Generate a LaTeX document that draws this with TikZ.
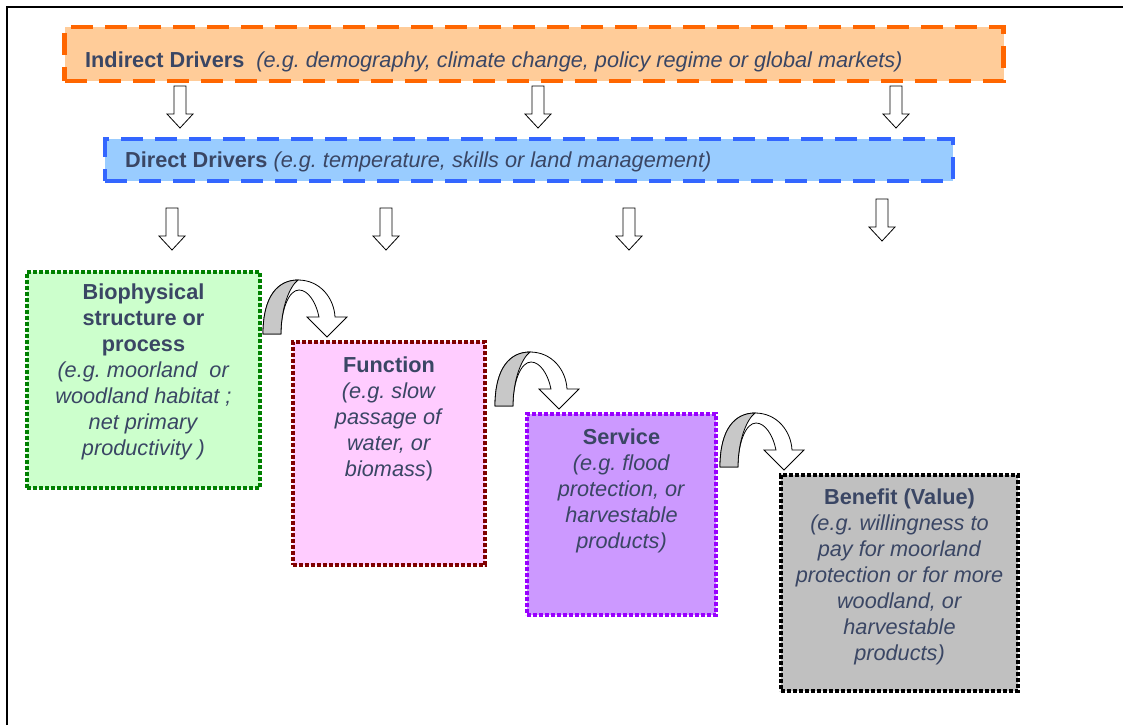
\documentclass[tikz,border=0pt]{standalone}
\usepackage{fontspec}
\setmainfont{Liberation Sans}
\frenchspacing
\definecolor{txt}{RGB}{58,70,100}
\definecolor{orgE}{HTML}{FF6600}
\definecolor{orgF}{HTML}{FFCC99}
\definecolor{bluE}{HTML}{3366FF}
\definecolor{bluF}{HTML}{99CCFF}
\definecolor{grnE}{HTML}{008000}
\definecolor{grnF}{HTML}{CCFFCC}
\definecolor{redE}{HTML}{800000}
\definecolor{redF}{HTML}{FFCCFF}
\definecolor{purE}{HTML}{9900FF}
\definecolor{purF}{HTML}{CC99FF}
\definecolor{gryF}{HTML}{C0C0C0}
\definecolor{arrG}{HTML}{C8C8C8}
\tikzset{
  drvbox/.style={draw, line width=4.5pt, dash pattern=on 22pt off 12pt, inner sep=0pt},
  dotbox/.style={draw, line width=4.5pt, dash pattern=on 4pt off 2pt, inner sep=0pt},
  lbl/.style={text=txt, inner sep=0pt, font=\fontsize{21.7}{26}\selectfont},
  boxtxt/.style={lbl, align=center, anchor=north},
  downarrow/.pic={\draw[line width=0.8pt, fill=white] (-6,0) -- (6,0) -- (6,28) -- (13,28) -- (0,42) -- (-13,28) -- (-6,28) -- cycle;},
  curvarrow/.pic={
    \draw[line width=0.8pt, fill=white] (0,0) .. controls (0,-38) and (15,-54) .. (35,-54) .. controls (57,-54) and (71,-36) .. (72,-17) -- (84,-17) -- (64,3) -- (44,-17) -- (56,-17) .. controls (53,-32) and (45,-44) .. (36,-44) .. controls (26,-44) and (18,-25) .. (18,0) -- cycle;
    \draw[line width=0.8pt, fill=arrG] (0,0) .. controls (0,-38) and (15,-54) .. (35,-54) .. controls (26,-47) and (18,-25) .. (18,0) -- cycle;}
}
\begin{document}
\begin{tikzpicture}[x=1pt,y=-1pt]
\useasboundingbox (0,0) rectangle (1123,725);
% frame
\draw[line width=2pt] (7,725) -- (7,7) -- (1123,7);
% driver boxes
\node[drvbox, draw=orgE, fill=orgF, minimum width=939pt, minimum height=54pt] (ind) at (534,54) {};
\node[lbl, anchor=west] (indt) at (85,62) {\textbf{Indirect Drivers} \ \textit{(e.g. demography, climate change, policy regime or global markets)}};
\node[drvbox, draw=bluE, fill=bluF, minimum width=848pt, minimum height=42pt] (dir) at (529,160) {};
\node[lbl, anchor=west] (dirt) at (125,162) {\textbf{Direct Drivers} \textit{(e.g. temperature, skills or land management)}};
% stage boxes
\node[dotbox, draw=grnE, fill=grnF, minimum width=233pt, minimum height=216pt] (bio) at (143.5,380) {};
\node[dotbox, draw=redE, fill=redF, minimum width=192pt, minimum height=223pt] (fun) at (389,453.5) {};
\node[dotbox, draw=purE, fill=purF, minimum width=189pt, minimum height=201pt] (ser) at (621.5,514.5) {};
\node[dotbox, draw=black, fill=gryF, minimum width=237pt, minimum height=216pt] (ben) at (899.5,583) {};
% texts
\node[boxtxt] (biot) at (143.5,284) {\textbf{Biophysical}\\\textbf{structure or}\\\textbf{process}\\\textit{(e.g. moorland\ \ or}\\\textit{woodland habitat ;}\\\textit{net primary}\\\textit{productivity )}};
\node[boxtxt] (funt) at (389,357) {\textbf{Function}\\\textit{(e.g. slow}\\\textit{passage of}\\\textit{water, or}\\\textit{biomass})};
\node[boxtxt] (sert) at (621.5,429) {\textbf{Service}\\\textit{(e.g. flood}\\\textit{protection, or}\\\textit{harvestable}\\\textit{products)}};
\node[boxtxt] (bent) at (899.5,489) {\textbf{Benefit (Value)}\\\textit{(e.g. willingness to}\\\textit{pay for moorland}\\\textit{protection or for more}\\\textit{woodland, or}\\\textit{harvestable}\\\textit{products)}};
% down arrows
\coordinate (a1) at (180,86);
\coordinate (a2) at (538,86);
\coordinate (a3) at (896,86);
\coordinate (b1) at (172,208);
\coordinate (b2) at (386,208);
\coordinate (b3) at (629,208);
\coordinate (b4) at (882,199);
\foreach \c in {a1,a2,a3,b1,b2,b3,b4} \pic at (\c) {downarrow};
% curved arrows
\coordinate (c1) at (263,334);
\coordinate (c2) at (495,406);
\coordinate (c3) at (720,467);
\foreach \c in {c1,c2,c3} \pic at (\c) {curvarrow};
\end{tikzpicture}
\end{document}
